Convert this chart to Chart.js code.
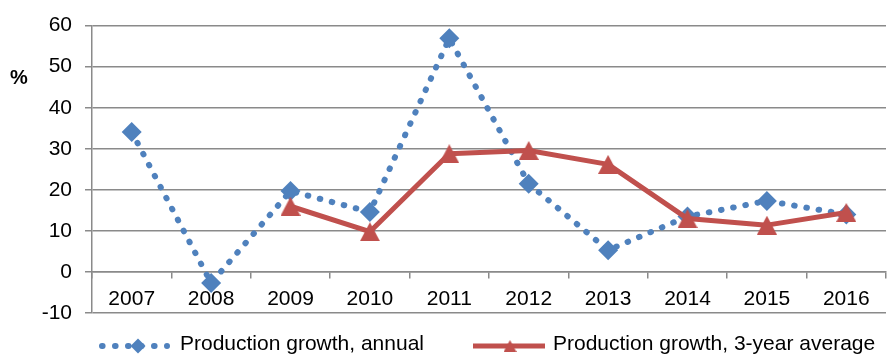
<!DOCTYPE html>
<html>
<head>
<meta charset="utf-8">
<title>Production growth</title>
<script src="https://cdn.jsdelivr.net/npm/chart.js@4.4.1/dist/chart.umd.min.js"></script>
<style>
  html, body { margin: 0; padding: 0; background: #fff; overflow: hidden; }
  #growth-chart { display: block; }
</style>
</head>
<body>
<canvas id="growth-chart" width="896" height="356"></canvas>
<script>
// ============================================================
// Data
// ============================================================
const years = ['2007', '2008', '2009', '2010', '2011', '2012', '2013', '2014', '2015', '2016'];
const annualGrowth = [34.1, -2.7, 19.7, 14.6, 56.9, 21.5, 5.3, 13.5, 17.3, 14.0];
const avgGrowth3y = [null, null, 16.0, 9.8, 28.8, 29.6, 26.2, 13.0, 11.4, 14.5];
const yTicks = [-10, 0, 10, 20, 30, 40, 50, 60];
const seriesNames = ['Production growth, annual', 'Production growth, 3-year average'];
const unitLabel = '%';

// ============================================================
// Styles
// ============================================================
const BLUE = '#4F81BD';
const RED = '#C0504D';
const GRID = '#8a8a8a';
const FONT = "'Liberation Sans', Arial, sans-serif";
const DOTS = [0.6, 11.8]; // round-dot pattern for the annual line

// Excel-like triangle marker (box centred on the value)
function makeTriangle(w, h, color) {
  const c = document.createElement('canvas');
  c.width = w;
  c.height = h;
  const g = c.getContext('2d');
  g.fillStyle = color;
  g.beginPath();
  g.moveTo(w / 2, 0);
  g.lineTo(w, h);
  g.lineTo(0, h);
  g.closePath();
  g.fill();
  return c;
}

const triangleBig = makeTriangle(20, 19, RED);
const triangleSmall = makeTriangle(13, 12, RED);

// ============================================================
// Unit label + legend row drawn after the chart
// ============================================================
const extrasPlugin = {
  id: 'extras',
  afterDraw(chart) {
    const ctx = chart.ctx;
    ctx.save();

    ctx.fillStyle = '#000';
    ctx.font = 'bold 20px ' + FONT;
    ctx.textAlign = 'center';
    ctx.textBaseline = 'middle';
    ctx.fillText(unitLabel, 19, 78);

    const ly = 346;
    ctx.font = '21px ' + FONT;
    ctx.textAlign = 'left';

    // annual: dotted line with diamond
    ctx.strokeStyle = BLUE;
    ctx.lineWidth = 6;
    ctx.lineCap = 'round';
    ctx.setLineDash([0.6, 12.4]);
    ctx.beginPath();
    ctx.moveTo(102, ly);
    ctx.lineTo(167, ly);
    ctx.stroke();
    ctx.setLineDash([]);
    ctx.fillStyle = BLUE;
    ctx.beginPath();
    ctx.moveTo(138, ly - 7.5);
    ctx.lineTo(145.5, ly);
    ctx.lineTo(138, ly + 7.5);
    ctx.lineTo(130.5, ly);
    ctx.closePath();
    ctx.fill();
    ctx.fillStyle = '#000';
    ctx.fillText(seriesNames[0], 180, ly - 1.5);

    // 3-year average: solid line with triangle
    ctx.strokeStyle = RED;
    ctx.lineWidth = 5;
    ctx.lineCap = 'butt';
    ctx.beginPath();
    ctx.moveTo(473, ly);
    ctx.lineTo(545, ly);
    ctx.stroke();
    ctx.drawImage(triangleSmall, 510 - 6.5, ly - 6);
    ctx.fillStyle = '#000';
    ctx.fillText(seriesNames[1], 553, ly - 1.5);

    ctx.restore();
  }
};

// ============================================================
// Chart
// ============================================================
const ctx = document.getElementById('growth-chart').getContext('2d');
new Chart(ctx, {
  type: 'line',
  data: {
    labels: years,
    datasets: [
      {
        label: seriesNames[0],
        data: annualGrowth,
        order: 1,
        borderColor: BLUE,
        borderWidth: 6,
        borderDash: DOTS,
        borderCapStyle: 'round',
        pointStyle: 'rectRot',
        pointRadius: 10,
        pointBorderWidth: 0,
        pointBackgroundColor: BLUE,
        pointBorderColor: BLUE,
        tension: 0,
        fill: false,
      },
      {
        label: seriesNames[1],
        data: avgGrowth3y,
        order: 0,
        borderColor: RED,
        borderWidth: 5,
        borderJoinStyle: 'round',
        pointStyle: triangleBig,
        pointBackgroundColor: RED,
        pointBorderColor: RED,
        tension: 0,
        fill: false,
      },
    ],
  },
  options: {
    responsive: false,
    animation: false,
    layout: { padding: { left: 0, right: 4, top: 25, bottom: 43 } },
    plugins: {
      legend: { display: false },
      tooltip: { enabled: false },
    },
    scales: {
      x: {
        position: { y: 0 },
        offset: true,
        grid: {
          offset: true,
          drawOnChartArea: false,
          tickLength: 6,
          color: GRID,
          lineWidth: 1.5,
        },
        border: { color: GRID, width: 1.5 },
        ticks: {
          color: '#000',
          padding: 9,
          maxRotation: 0,
          font: { family: FONT, size: 21 },
        },
      },
      y: {
        min: yTicks[0],
        max: yTicks[yTicks.length - 1],
        afterFit: scale => { scale.width = 92; },
        grid: { color: GRID, lineWidth: 1.5, tickLength: 7 },
        border: { color: GRID, width: 1.5 },
        ticks: {
          stepSize: yTicks[1] - yTicks[0],
          color: '#000',
          padding: 13,
          font: { family: FONT, size: 21 },
        },
      },
    },
  },
  plugins: [extrasPlugin],
});
</script>
</body>
</html>
